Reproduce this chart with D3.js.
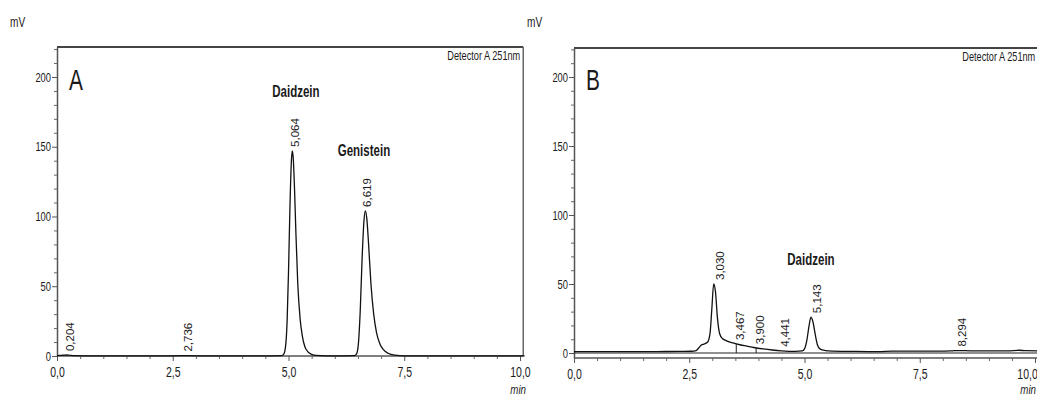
<!DOCTYPE html>
<html>
<head>
<meta charset="utf-8">
<script src="https://cdn.jsdelivr.net/npm/d3@7/dist/d3.min.js"></script>
<style>
  html, body { margin: 0; padding: 0; background: #fff; }
  svg { display: block; }
  text { font-family: "Liberation Sans", Arial, sans-serif; fill: #1a1a1a; }
</style>
</head>
<body>
<svg id="chart" width="1037" height="396"></svg>
<script>
// ---------- DATA ----------
const xTickValues = [0, 2.5, 5, 7.5, 10];
const yTickValues = [0, 50, 100, 150, 200];

// Chromatogram A (time in min, signal in mV)
const timeA = [0, 0.1, 0.15, 0.2, 0.25, 0.3, 0.4, 0.6, 1.0, 2.0, 2.7, 2.75, 2.8, 3.5, 4.5, 4.85, 4.9, 4.94, 4.97, 5.0, 5.03, 5.06, 5.08, 5.1, 5.13, 5.16, 5.2, 5.25, 5.3, 5.35, 5.42, 5.5, 5.6, 5.8, 6.2, 6.42, 6.47, 6.51, 6.55, 6.59, 6.63, 6.66, 6.69, 6.73, 6.78, 6.84, 6.9, 6.97, 7.05, 7.15, 7.3, 7.5, 8.5, 10.1];
const mvA   = [0.3, 0.5, 0.6, 0.7, 0.6, 0.4, 0.2, 0.1, 0.1, 0.1, 0.2, 0.3, 0.2, 0.1, 0.1, 0.2, 1.5, 8, 25, 60, 105, 138, 147, 143, 120, 88, 52, 27, 14, 7, 3, 1.2, 0.4, 0.1, 0.1, 0.2, 1.5, 9, 33, 70, 97, 104, 99, 80, 52, 30, 17, 9, 4.5, 2, 0.6, 0.1, 0.1, 0.1];
const peakTimesA   = [0.204, 2.736, 5.064, 6.619];
const peakHeightsA = [0.7, 0.3, 147, 104];
const peakLabelsA  = ["0,204", "2,736", "5,064", "6,619"];
const compoundsA   = ["Daidzein", "Genistein"];
const compoundTimesA = [5.16, 6.63];
const compoundLevelsA = [186, 143];

// Chromatogram B
const timeB = [0, 0.5, 1.0, 1.5, 2.0, 2.3, 2.55, 2.65, 2.7, 2.75, 2.82, 2.9, 2.95, 2.99, 3.03, 3.07, 3.11, 3.16, 3.22, 3.3, 3.45, 3.6, 3.75, 3.9, 4.1, 4.3, 4.5, 4.8, 4.95, 5.0, 5.05, 5.1, 5.14, 5.18, 5.23, 5.28, 5.34, 5.45, 5.6, 6.0, 6.6, 6.9, 7.2, 8.0, 8.2, 8.35, 8.6, 9.4, 9.65, 9.8, 10.1];
const mvB   = [1.0, 1.0, 1.0, 1.0, 1.1, 1.2, 1.3, 1.8, 3.5, 5.5, 6.5, 8, 14, 32, 50, 44, 26, 14, 10.5, 9, 7.3, 6, 5, 4, 3, 2.2, 1.6, 1.2, 1.5, 3, 9, 20, 26, 23, 14, 6, 2.8, 1.8, 1.4, 1.2, 1.0, 1.4, 1.4, 1.4, 1.6, 1.8, 1.6, 1.6, 2.0, 1.7, 1.6];
const peakTimesB   = [3.030, 3.467, 3.900, 4.441, 5.143, 8.294];
const peakHeightsB = [50, 6.5, 3.5, 1.6, 26, 1.8];
const peakLabelsB  = ["3,030", "3,467", "3,900", "4,441", "5,143", "8,294"];
const dropTimesB   = [3.52, 3.95];
const compoundsB   = ["Daidzein"];
const compoundTimesB = [5.14];
const compoundLevelsB = [64];

// ---------- DRAW ----------
const svg = d3.select("#chart");
const W = 1037;
const fmt = v => d3.format(".1f")(v).replace(".", ",");

// horizontally condense text around its anchor point (narrow-font look)
function condense(sel, s) {
  sel.each(function () {
    const t = d3.select(this);
    const ax = +(t.attr("x") || 0);
    const prev = t.attr("transform") || "";
    t.attr("transform", `${prev} translate(${ax},0) scale(${s},1) translate(${-ax},0)`);
  });
}

function drawPanel(cfg) {
  const x = d3.scaleLinear().domain([0, 10]).range([cfg.left, cfg.right10]);
  const y = d3.scaleLinear().domain(cfg.yDomain).range([cfg.bottom, cfg.top]);
  const g = svg.append("g");
  const xEnd = x(10.07);

  // frame: top + right
  g.append("line").attr("x1", cfg.left).attr("x2", xEnd).attr("y1", cfg.top).attr("y2", cfg.top)
    .attr("stroke", "#444").attr("stroke-width", 2);
  g.append("line").attr("x1", xEnd).attr("x2", xEnd).attr("y1", cfg.top).attr("y2", cfg.bottom)
    .attr("stroke", "#666").attr("stroke-width", 1.5);

  // y axis major
  const yAx = g.append("g").attr("transform", `translate(${cfg.left},0)`)
    .call(d3.axisLeft(y).tickValues(yTickValues).tickSize(5).tickSizeOuter(0).tickFormat(d => d3.format("d")(d)));
  yAx.select(".domain").attr("stroke", "#555").attr("stroke-width", 1.5);
  yAx.selectAll(".tick line").attr("stroke", "#555");
  yAx.selectAll("text").attr("font-size", 13).attr("x", -6).style("fill", "#1a1a1a");
  condense(yAx.selectAll("text"), 0.72);
  // y axis minor
  const yMinor = d3.range(0, 221, 10).filter(v => v % 50 !== 0);
  const yAxm = g.append("g").attr("transform", `translate(${cfg.left},0)`)
    .call(d3.axisLeft(y).tickValues(yMinor).tickSize(3).tickFormat(""));
  yAxm.select(".domain").remove();
  yAxm.selectAll(".tick line").attr("stroke", "#666");

  // x axis
  const xAx = g.append("g").attr("transform", `translate(0,${cfg.bottom})`)
    .call(d3.axisBottom(x).tickValues(xTickValues).tickSize(5).tickSizeOuter(0).tickFormat(fmt));
  xAx.select(".domain").attr("stroke", "#555").attr("stroke-width", 1.5)
    .attr("d", `M${cfg.left},0H${xEnd}`);
  xAx.selectAll(".tick line").attr("stroke", "#555");
  xAx.selectAll("text").attr("font-size", 15).attr("dy", "0.9em").style("fill", "#1a1a1a");
  // keep the last label inside the window
  xAx.selectAll(".tick").each(function (d) {
    const edge = x(d) + 9;
    if (edge > W - 1) d3.select(this).select("text").attr("x", (W - 1) - edge);
  });
  condense(xAx.selectAll("text"), 0.7);
  const xMinor = d3.range(0.5, 10, 0.5).filter(v => v % 2.5 !== 0);
  const xAxm = g.append("g").attr("transform", `translate(0,${cfg.bottom})`)
    .call(d3.axisBottom(x).tickValues(xMinor).tickSize(3).tickFormat(""));
  xAxm.select(".domain").remove();
  xAxm.selectAll(".tick line").attr("stroke", "#666");

  // zero baseline (panel B)
  if (cfg.baseline) {
    g.append("line").attr("x1", x(0)).attr("x2", xEnd).attr("y1", y(0)).attr("y2", y(0))
      .attr("stroke", "#222").attr("stroke-width", 1.1);
  }

  // signal
  const line = d3.line().x((d, i) => x(cfg.time[i])).y(d => y(d)).curve(d3.curveMonotoneX);
  g.append("path").datum(cfg.mv).attr("d", line)
    .attr("fill", "none").attr("stroke", "#111").attr("stroke-width", 1.3);

  // drop lines
  (cfg.drops || []).forEach(t => {
    const i = d3.bisectLeft(cfg.time, t);
    const t0 = cfg.time[i - 1], t1 = cfg.time[i];
    const v = cfg.mv[i - 1] + (cfg.mv[i] - cfg.mv[i - 1]) * (t - t0) / (t1 - t0);
    g.append("line").attr("x1", x(t)).attr("x2", x(t)).attr("y1", y(0)).attr("y2", y(v))
      .attr("stroke", "#222").attr("stroke-width", 1);
  });

  // peak labels (rotated)
  cfg.peakTimes.forEach((t, i) => {
    const px = x(t) + cfg.labelDx, py = y(cfg.peakHeights[i]) - 4;
    g.append("text").attr("transform", `translate(${px},${py}) rotate(-90)`)
      .attr("font-size", 11.5).attr("text-anchor", "start")
      .text(cfg.peakLabels[i]);
  });

  // compound names
  cfg.compounds.forEach((c, i) => {
    const t = g.append("text").attr("x", x(cfg.compoundTimes[i])).attr("y", y(cfg.compoundLevels[i]))
      .attr("font-size", 16).attr("font-weight", "bold").attr("text-anchor", "middle").text(c);
    condense(t, 0.72);
  });

  // panel letter
  condense(g.append("text").attr("x", cfg.left + 12).attr("y", y(200) + 13).attr("font-size", 29).text(cfg.letter), 0.72);
  // mV
  condense(g.append("text").attr("x", cfg.left - 47).attr("y", 27).attr("font-size", 14).text("mV"), 0.72);
  // detector
  condense(g.append("text").attr("x", Math.min(xEnd - 3, W - 1)).attr("y", cfg.top + 13).attr("font-size", 13.5)
    .attr("text-anchor", "end").text("Detector A 251nm"), 0.68);
  // min
  condense(g.append("text").attr("x", Math.min(x(10) + 6, W - 1)).attr("y", 394).attr("font-size", 13)
    .attr("text-anchor", "end").attr("font-style", "italic").text("min"), 0.75);
}

drawPanel({
  letter: "A", left: 57, right10: 520, top: 47, bottom: 356, yDomain: [0, 221.5],
  time: timeA, mv: mvA, peakTimes: peakTimesA, peakHeights: peakHeightsA, peakLabels: peakLabelsA,
  compounds: compoundsA, compoundTimes: compoundTimesA, compoundLevels: compoundLevelsA,
  labelDx: 8, baseline: false
});
drawPanel({
  letter: "B", left: 574, right10: 1035, top: 48, bottom: 358, yDomain: [-3.6, 221],
  time: timeB, mv: mvB, peakTimes: peakTimesB, peakHeights: peakHeightsB, peakLabels: peakLabelsB,
  compounds: compoundsB, compoundTimes: compoundTimesB, compoundLevels: compoundLevelsB,
  drops: dropTimesB, labelDx: 10, baseline: true
});
</script>
</body>
</html>
